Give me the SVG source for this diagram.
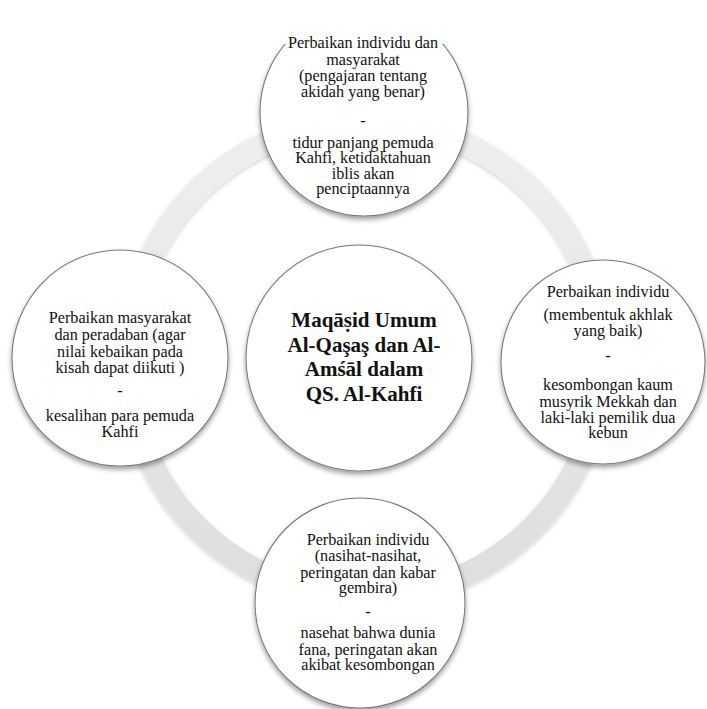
<svg xmlns="http://www.w3.org/2000/svg" width="707" height="709" viewBox="0 0 707 709">
<defs>
<linearGradient id="ringGrad" x1="0" y1="0" x2="0" y2="1">
<stop offset="0" stop-color="#efefef"/>
<stop offset="1" stop-color="#dedede"/>
</linearGradient>
<filter id="shadow" x="-20%" y="-20%" width="140%" height="150%">
<feDropShadow dx="0" dy="3" stdDeviation="2.5" flood-color="#000" flood-opacity="0.38"/>
</filter>
<filter id="ringShadow" x="-10%" y="-10%" width="120%" height="120%">
<feDropShadow dx="0" dy="2" stdDeviation="2" flood-color="#000" flood-opacity="0.18"/>
</filter>
<clipPath id="clipTop">
<rect x="0" y="44" width="707" height="665"/>
</clipPath>
</defs>
<style>
.node{fill:#ffffff;stroke:#7a7a7a;stroke-width:1.1}
text{font-family:'Liberation Serif','Times New Roman',Tinos,'DejaVu Serif',serif;fill:#111;text-anchor:middle}
.t{font-size:16.2px}
.c{font-size:21px;font-weight:bold}
</style>
<rect width="707" height="709" fill="#ffffff"/>
<g id="connectors">
<circle cx="365" cy="359" r="237.5" fill="none" stroke="url(#ringGrad)" stroke-width="23" filter="url(#ringShadow)"/>
</g>
<g id="node-center">
<circle class="node" cx="359" cy="358" r="113" filter="url(#shadow)"/>
<text class="c" x="364" y="327" font-family="Liberation Serif, serif">Maqāṣid Umum</text>
<text class="c" x="364" y="351.5" font-family="Liberation Serif, serif">Al-Qaşaş dan Al-</text>
<text class="c" x="364" y="376" font-family="Liberation Serif, serif">Amśāl dalam</text>
<text class="c" x="364" y="400.5" font-family="Liberation Serif, serif">QS. Al-Kahfi</text>
</g>
<g id="node-top">
<g clip-path="url(#clipTop)">
<circle class="node" cx="364" cy="112" r="104" filter="url(#shadow)"/>
</g>
<text class="t" x="363" y="48">Perbaikan individu dan</text>
<text class="t" x="363" y="64.5">masyarakat</text>
<text class="t" x="363" y="81">(pengajaran tentang</text>
<text class="t" x="363" y="97">akidah yang benar)</text>
<text class="t" x="363" y="126">-</text>
<text class="t" x="363" y="147.5">tidur panjang pemuda</text>
<text class="t" x="363" y="163">Kahfi, ketidaktahuan</text>
<text class="t" x="363" y="178.5">iblis akan</text>
<text class="t" x="363" y="193.5">penciptaannya</text>
</g>
<g id="node-right">
<circle class="node" cx="603" cy="362" r="102" filter="url(#shadow)"/>
<text class="t" x="608" y="297">Perbaikan individu</text>
<text class="t" x="608" y="320">(membentuk akhlak</text>
<text class="t" x="608" y="335.5">yang baik)</text>
<text class="t" x="608" y="361">-</text>
<text class="t" x="608" y="390">kesombongan kaum</text>
<text class="t" x="608" y="406.5">musyrik Mekkah dan</text>
<text class="t" x="608" y="422.5">laki-laki pemilik dua</text>
<text class="t" x="608" y="438">kebun</text>
</g>
<g id="node-bottom">
<circle class="node" cx="360" cy="603" r="105" filter="url(#shadow)"/>
<text class="t" x="368" y="545">Perbaikan individu</text>
<text class="t" x="368" y="561">(nasihat-nasihat,</text>
<text class="t" x="368" y="577.5">peringatan dan kabar</text>
<text class="t" x="368" y="593">gembira)</text>
<text class="t" x="368" y="617">-</text>
<text class="t" x="368" y="638">nasehat bahwa dunia</text>
<text class="t" x="368" y="654.5">fana, peringatan akan</text>
<text class="t" x="368" y="670">akibat kesombongan</text>
</g>
<g id="node-left">
<circle class="node" cx="120" cy="358" r="108" filter="url(#shadow)"/>
<text class="t" x="120" y="323">Perbaikan masyarakat</text>
<text class="t" x="120" y="340">dan peradaban (agar</text>
<text class="t" x="120" y="356.5">nilai kebaikan pada</text>
<text class="t" x="120" y="373">kisah dapat diikuti )</text>
<text class="t" x="120" y="396">-</text>
<text class="t" x="120" y="421">kesalihan para pemuda</text>
<text class="t" x="120" y="437">Kahfi</text>
</g>
</svg>
